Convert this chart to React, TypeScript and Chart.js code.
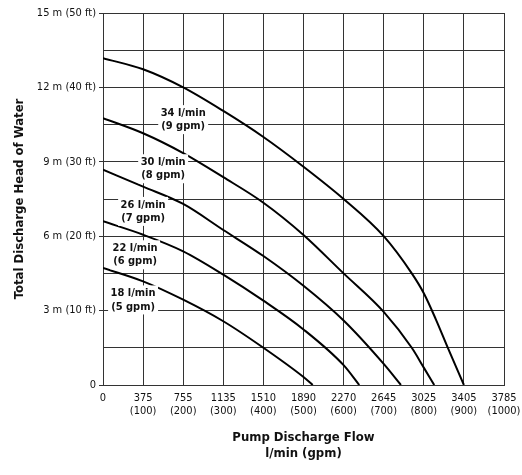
import React, { useEffect, useRef } from 'react';
import { Chart, registerables } from 'chart.js';

Chart.register(...registerables);

const FONT = "'Liberation Sans Narrow', 'DejaVu Sans Condensed', 'Arial Narrow', sans-serif";

// X axis: flow in gpm (scale), labelled in l/min and (gpm)
const flowGpmTicks = [0, 100, 200, 300, 400, 500, 600, 700, 800, 900, 1000];
const flowLpmTicks = ['0', '375', '755', '1135', '1510', '1890', '2270', '2645', '3025', '3405', '3785'];

// Y axis: head in metres
const headTickValues = [0, 3, 6, 9, 12, 15];
const headTickLabels = ['0', '3 m (10 ft)', '6 m (20 ft)', '9 m (30 ft)', '12 m (40 ft)', '15 m (50 ft)'];

// Curves (flow in gpm, head in m)
const flow34 = [0, 100, 200, 300, 400, 500, 600, 700, 770, 800, 830, 860, 900];
const head34 = [13.18, 12.73, 12.0, 11.05, 10.0, 8.8, 7.5, 6.0, 4.5, 3.7, 2.65, 1.5, 0];

const flow30 = [0, 100, 200, 300, 400, 500, 600, 700, 770, 800, 826];
const head30 = [10.76, 10.15, 9.35, 8.38, 7.35, 6.05, 4.5, 2.95, 1.5, 0.7, 0];

const flow26 = [0, 100, 200, 300, 400, 500, 600, 700, 743];
const head26 = [8.68, 8.0, 7.3, 6.25, 5.2, 4.0, 2.6, 0.85, 0];

const flow22 = [0, 100, 200, 300, 400, 500, 600, 639];
const head22 = [6.6, 6.06, 5.39, 4.45, 3.4, 2.24, 0.8, 0];

const flow18 = [0, 100, 200, 300, 400, 500, 523];
const head18 = [4.72, 4.18, 3.44, 2.57, 1.5, 0.32, 0];

// Curve labels
const curveLpmNames = ['34 l/min', '30 l/min', '26 l/min', '22 l/min', '18 l/min'];
const curveGpmNames = ['(9 gpm)', '(8 gpm)', '(7 gpm)', '(6 gpm)', '(5 gpm)'];
const labelFlow = [200, 150, 100, 80, 75];
const labelHead = [10.7, 8.72, 7.0, 5.25, 3.43];

const curveLabelPlugin = {
  id: 'curveLabels',
  afterDatasetsDraw(chart: any) {
    const { ctx, scales } = chart;
    const xs = scales.x;
    const ys = scales.y;
    ctx.save();
    ctx.font = `bold 11px ${FONT}`;
    ctx.textAlign = 'center';
    ctx.textBaseline = 'middle';
    const lh = 13.5;
    for (let i = 0; i < curveLpmNames.length; i++) {
      const cx = xs.getPixelForValue(labelFlow[i]);
      const cy = ys.getPixelForValue(labelHead[i]);
      const w = Math.max(ctx.measureText(curveLpmNames[i]).width, ctx.measureText(curveGpmNames[i]).width) + 5;
      ctx.fillStyle = '#ffffff';
      ctx.fillRect(cx - w / 2, cy - lh - 1, w, 2 * lh + 2);
      ctx.fillStyle = '#111111';
      ctx.fillText(curveLpmNames[i], cx, cy - lh / 2);
      ctx.fillText(curveGpmNames[i], cx, cy + lh / 2);
    }
    ctx.restore();
  },
};

function makeSeries(flow: number[], head: number[]) {
  return flow.map((f, i) => ({ x: f, y: head[i] }));
}

function findHeadLabel(v: number): string | null {
  for (let i = 0; i < headTickValues.length; i++) {
    if (Math.abs(headTickValues[i] - v) < 1e-6) return headTickLabels[i];
  }
  return null;
}

export default function App() {
  const canvasRef = useRef<HTMLCanvasElement | null>(null);

  useEffect(() => {
    if (!canvasRef.current) return;
    const series = [
      makeSeries(flow34, head34),
      makeSeries(flow30, head30),
      makeSeries(flow26, head26),
      makeSeries(flow22, head22),
      makeSeries(flow18, head18),
    ];
    const chart = new Chart(canvasRef.current, {
      type: 'line',
      data: {
        datasets: series.map((d) => ({
          data: d,
          borderColor: '#000000',
          borderWidth: 2,
          pointRadius: 0,
          fill: false,
          cubicInterpolationMode: 'monotone' as const,
        })),
      },
      options: {
        animation: false,
        responsive: false,
        devicePixelRatio: 1,
        layout: { padding: { left: 0, right: 18, top: 13, bottom: 0 } },
        plugins: { legend: { display: false }, tooltip: { enabled: false } },
        scales: {
          x: {
            type: 'linear',
            min: 0,
            max: 1000,
            afterFit: (s: any) => {
              s.height = 90;
              s.paddingLeft = 0;
              s.paddingRight = 0;
            },
            border: { display: true, color: '#333333', width: 1 },
            grid: { color: '#333333', lineWidth: 1, drawTicks: false },
            ticks: {
              stepSize: 100,
              autoSkip: false,
              maxRotation: 0,
              padding: 6.5,
              color: '#111111',
              font: { family: FONT, size: 11, lineHeight: 1.2 },
              callback: (v: any) => {
                const i = flowGpmTicks.indexOf(Number(v));
                if (i < 0) return '';
                if (i === 0) return flowLpmTicks[0];
                return [flowLpmTicks[i], `(${flowGpmTicks[i]})`];
              },
            },
            title: {
              display: true,
              text: ['Pump Discharge Flow', 'l/min (gpm)'],
              color: '#111111',
              font: { family: FONT, size: 13, weight: 'bold', lineHeight: 1.3 },
              padding: { top: 0, bottom: 12.5 },
            },
          },
          y: {
            type: 'linear',
            min: 0,
            max: 15,
            afterFit: (s: any) => {
              s.width = 103;
              s.paddingTop = 0;
              s.paddingBottom = 0;
            },
            border: { display: true, color: '#333333', width: 1 },
            grid: {
              color: '#333333',
              lineWidth: 1,
              drawTicks: true,
              tickLength: 4,
              tickColor: (c: any) => (c.tick && findHeadLabel(c.tick.value) !== null ? '#333333' : 'rgba(0,0,0,0)'),
            },
            ticks: {
              stepSize: 1.5,
              autoSkip: false,
              padding: 3,
              color: '#111111',
              font: { family: FONT, size: 11 },
              callback: (v: any) => {
                const l = findHeadLabel(Number(v));
                return l === null ? '' : l;
              },
            },
            title: {
              display: true,
              text: 'Total Discharge Head of Water',
              color: '#111111',
              font: { family: FONT, size: 13, weight: 'bold', lineHeight: 1.2 },
              padding: { top: 12, bottom: 0 },
            },
          },
        },
      },
      plugins: [curveLabelPlugin],
    } as any);
    return () => chart.destroy();
  }, []);

  return (
    <div style={{ position: 'fixed', left: 0, top: 0, width: 522, height: 475, background: '#ffffff' }}>
      <canvas ref={canvasRef} width={522} height={475} style={{ display: 'block', width: 522, height: 475 }} />
    </div>
  );
}
